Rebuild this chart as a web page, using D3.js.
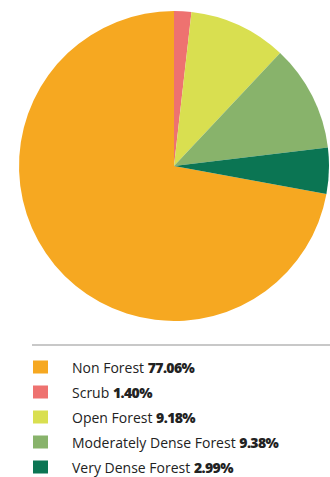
<!DOCTYPE html>
<html><head><meta charset="utf-8">
<script src="https://cdn.jsdelivr.net/npm/d3@7"></script>
<style>body{margin:0;background:#fff;}svg{display:block;}</style>
</head><body>
<script>
const categories = ["Non Forest","Scrub","Open Forest","Moderately Dense Forest","Very Dense Forest"];
const labels = ["77.06%","1.40%","9.18%","9.38%","2.99%"];
// slice sizes as drawn in the picture (percent of the circle)
const sliceValues = [72.1,1.8,10.2,11.1,4.8];
const colors = ["#F6A821","#EE7270","#D9DF50","#88B36B","#0B7553"];

const W=330,H=477;
const svg=d3.select("body").append("svg").attr("width",W).attr("height",H);
const cx=174, cy=166, r=155;
const total=d3.sum(sliceValues);
const start=-2*Math.PI*sliceValues[0]/total;
const pie=d3.pie().sort(null).startAngle(start).endAngle(start+2*Math.PI);
const arc=d3.arc().innerRadius(0).outerRadius(r);
const data=categories.map((c,i)=>({c,v:sliceValues[i],col:colors[i]}));
svg.append("g").attr("transform",`translate(${cx},${cy})`)
  .selectAll("path").data(pie.value(d=>d.v)(data)).join("path")
  .attr("d",arc).attr("fill",d=>d.data.col);

svg.append("line").attr("x1",32).attr("x2",330).attr("y1",345).attr("y2",345)
  .attr("stroke","#c8c8c8").attr("stroke-width",2);

const y=d3.scaleBand().domain(categories).range([355,480]);
const lg=svg.append("g");
const rows=lg.selectAll("g").data(data).join("g")
  .attr("transform",d=>`translate(0,${y(d.c)+y.bandwidth()/2})`);
rows.append("rect").attr("x",33).attr("y",-7).attr("width",15).attr("height",13).attr("fill",d=>d.col);
const t=rows.append("text").attr("x",72).attr("y",5)
  .attr("font-family","Open Sans").attr("font-size",14).attr("fill","#222");
t.append("tspan").text(d=>d.c+" ");
t.append("tspan").attr("font-weight",800).attr("letter-spacing",-0.6).text((d,i)=>labels[i]);
</script>
</body></html>
